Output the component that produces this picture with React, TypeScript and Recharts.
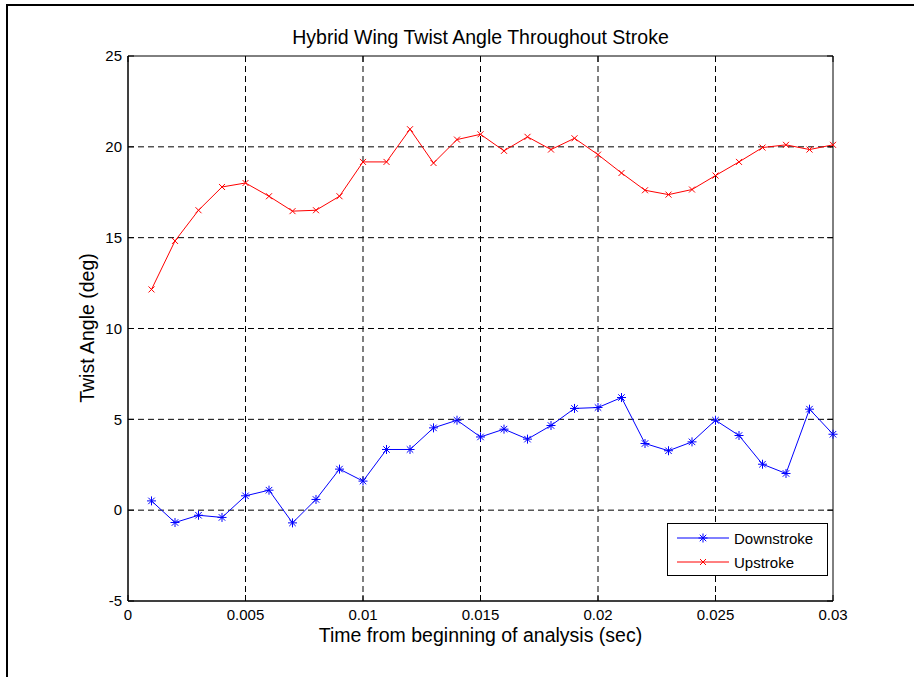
import React from "react";
import {
  LineChart,
  Line,
  XAxis,
  YAxis,
  CartesianGrid,
  Legend,
  ReferenceArea,
} from "recharts";

// time stamps (sec)
const time = [
  0.001, 0.002, 0.003, 0.004, 0.005, 0.006, 0.007, 0.008, 0.009, 0.01,
  0.011, 0.012, 0.013, 0.014, 0.015, 0.016, 0.017, 0.018, 0.019, 0.02,
  0.021, 0.022, 0.023, 0.024, 0.025, 0.026, 0.027, 0.028, 0.029, 0.03,
];

// twist angle (deg)
const downstroke = [
  0.51, -0.68, -0.28, -0.4, 0.79, 1.1, -0.7, 0.59, 2.26, 1.6,
  3.34, 3.34, 4.53, 4.95, 4.03, 4.46, 3.91, 4.66, 5.6, 5.65,
  6.2, 3.67, 3.27, 3.76, 4.95, 4.11, 2.53, 2.02, 5.56, 4.18,
];

const upstroke = [
  12.15, 14.82, 16.51, 17.79, 18.01, 17.28, 16.46, 16.51, 17.28, 19.17,
  19.17, 20.97, 19.11, 20.4, 20.69, 19.78, 20.55, 19.85, 20.47, 19.57,
  18.56, 17.61, 17.37, 17.65, 18.42, 19.17, 19.96, 20.11, 19.85, 20.11,
];

const xTicks = [0, 0.005, 0.01, 0.015, 0.02, 0.025, 0.03];
const yTicks = [-5, 0, 5, 10, 15, 20, 25];

const data = time.map((t, i) => ({
  t,
  down: downstroke[i],
  up: upstroke[i],
}));

const BLUE = "#0000ff";
const RED = "#ff0000";
const FONT = "'Liberation Sans', Arial, Helvetica, sans-serif";

const Star = ({ cx, cy }: any) => {
  if (cx == null || cy == null) return null;
  const r = 4.5;
  const d = r * 0.72;
  return (
    <g stroke={BLUE} strokeWidth={1}>
      <line x1={cx - r} y1={cy} x2={cx + r} y2={cy} />
      <line x1={cx} y1={cy - r} x2={cx} y2={cy + r} />
      <line x1={cx - d} y1={cy - d} x2={cx + d} y2={cy + d} />
      <line x1={cx - d} y1={cy + d} x2={cx + d} y2={cy - d} />
    </g>
  );
};

const Cross = ({ cx, cy }: any) => {
  if (cx == null || cy == null) return null;
  const r = 3;
  return (
    <g stroke={RED} strokeWidth={1}>
      <line x1={cx - r} y1={cy - r} x2={cx + r} y2={cy + r} />
      <line x1={cx - r} y1={cy + r} x2={cx + r} y2={cy - r} />
    </g>
  );
};

const LegendBox = () => (
  <div
    style={{
      width: 159,
      height: 51,
      border: "1px solid #000",
      background: "#fff",
      fontFamily: FONT,
      fontSize: 15,
      color: "#000",
      boxSizing: "content-box",
    }}
  >
    {[
      { name: "Downstroke", color: BLUE, Mark: Star },
      { name: "Upstroke", color: RED, Mark: Cross },
    ].map(({ name, color, Mark }, i) => (
      <div
        key={name}
        style={{
          display: "flex",
          alignItems: "center",
          height: 24,
          marginTop: i === 0 ? 2 : 0,
        }}
      >
        <svg width={66} height={24} style={{ display: "block" }}>
          <line x1={9} y1={12} x2={61} y2={12} stroke={color} strokeWidth={1} />
          <Mark cx={35} cy={12} />
        </svg>
        <span>{name}</span>
      </div>
    ))}
  </div>
);

// matlab style inward tick marks
const BottomTick = ({ x, y, payload }: any) => (
  <g>
    <line x1={x} y1={601} x2={x} y2={595} stroke="#000" />
    <line x1={x} y1={56} x2={x} y2={62} stroke="#000" />
    <text x={x} y={y} dy="0.71em" textAnchor="middle" fill="#000" fontSize={15}>
      {payload.value}
    </text>
  </g>
);

const LeftTick = ({ x, y, payload }: any) => (
  <g>
    <line x1={128} y1={y} x2={134} y2={y} stroke="#000" />
    <line x1={833} y1={y} x2={827} y2={y} stroke="#000" />
    <text x={x} y={y} dy="0.355em" textAnchor="end" fill="#000" fontSize={15}>
      {payload.value}
    </text>
  </g>
);

export default function App() {
  return (
    <div
      style={{
        position: "absolute",
        left: 0,
        top: 0,
        width: 914,
        height: 677,
        background: "#fff",
        fontFamily: FONT,
      }}
    >
      {/* figure frame */}
      <div
        style={{
          position: "absolute",
          left: 6,
          top: 4,
          width: 908,
          height: 671,
          borderLeft: "2px solid #000",
          borderTop: "2px solid #000",
          borderBottom: "1px solid #888",
        }}
      />
      <LineChart
        width={914}
        height={677}
        data={data}
        margin={{ top: 56, right: 81, left: 68, bottom: 46 }}
        style={{ position: "absolute", left: 0, top: 0, fontFamily: FONT }}
      >
        <CartesianGrid
          stroke="#000"
          strokeDasharray="6 4"
          horizontalValues={[0, 5, 10, 15, 20]}
          verticalValues={[0.005, 0.01, 0.015, 0.02, 0.025]}
        />
        <XAxis
          dataKey="t"
          type="number"
          domain={[0, 0.03]}
          ticks={xTicks}
          height={30}
          stroke="#000"
          tickLine={false}
          tickSize={6}
          tickMargin={2}
          axisLine={{ stroke: "#000" }}
          tick={<BottomTick />}
          interval={0}
        />
        <YAxis
          type="number"
          domain={[-5, 25]}
          ticks={yTicks}
          width={60}
          stroke="#000"
          tickLine={false}
          tickSize={4}
          tickMargin={2}
          axisLine={{ stroke: "#000" }}
          tick={<LeftTick />}
          interval={0}
        />
        {/* plot box */}
        <ReferenceArea
          x1={0}
          x2={0.03}
          y1={-5}
          y2={25}
          fill="none"
          fillOpacity={0}
          stroke="#000"
          strokeWidth={1}
          ifOverflow="visible"
        />
        <Legend
          layout="vertical"
          align="center"
          verticalAlign="middle"
          content={() => <LegendBox />}
          wrapperStyle={{ left: 667, top: 523, width: 161, height: 53 }}
        />
        <Line
          dataKey="down"
          name="Downstroke"
          stroke={BLUE}
          strokeWidth={1}
          dot={(p: any) => <Star key={`d${p.index}`} cx={p.cx} cy={p.cy} />}
          activeDot={false}
          isAnimationActive={false}
        />
        <Line
          dataKey="up"
          name="Upstroke"
          stroke={RED}
          strokeWidth={1}
          dot={(p: any) => <Cross key={`u${p.index}`} cx={p.cx} cy={p.cy} />}
          activeDot={false}
          isAnimationActive={false}
        />
      </LineChart>
      {/* title and axis labels */}
      <div
        style={{
          position: "absolute",
          left: 128,
          width: 705,
          top: 26,
          textAlign: "center",
          fontSize: 19.5,
          color: "#000",
        }}
      >
        Hybrid Wing Twist Angle Throughout Stroke
      </div>
      <div
        style={{
          position: "absolute",
          left: 128,
          width: 705,
          top: 624,
          textAlign: "center",
          fontSize: 19.5,
          color: "#000",
        }}
      >
        Time from beginning of analysis (sec)
      </div>
      <div
        style={{
          position: "absolute",
          left: 87 - 150,
          top: 328 - 12,
          width: 300,
          height: 24,
          lineHeight: "24px",
          textAlign: "center",
          fontSize: 19.5,
          color: "#000",
          transform: "rotate(-90deg)",
        }}
      >
        Twist Angle (deg)
      </div>
    </div>
  );
}
